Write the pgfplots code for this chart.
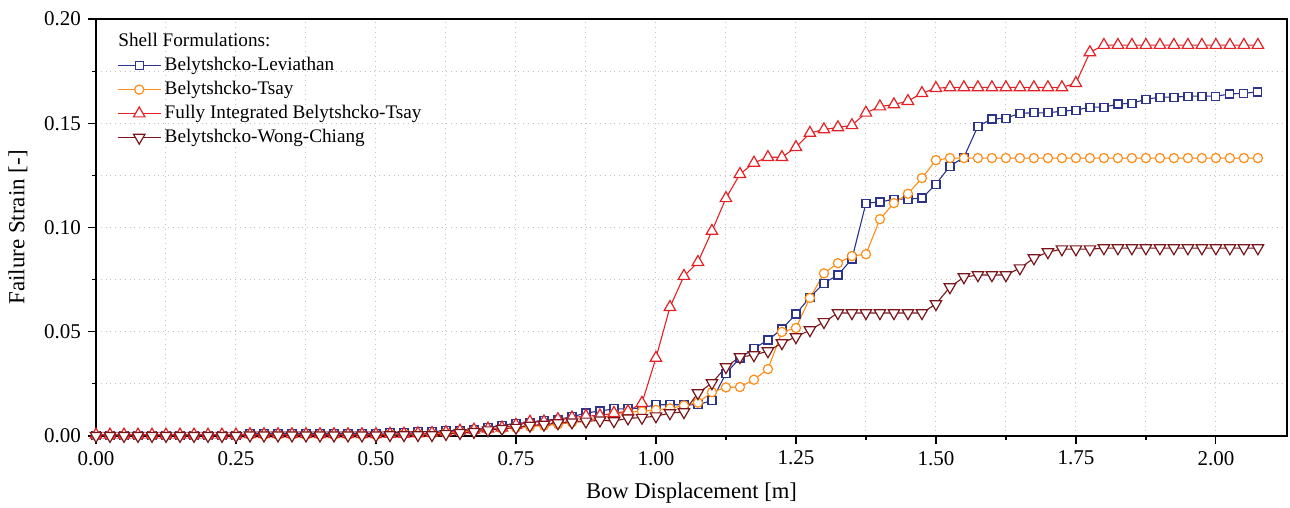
\documentclass[border=0pt]{standalone}
\usepackage{pgfplots}
\pgfplotsset{compat=1.18}
\usepackage{pgfplotstable}
\usepackage{fontspec}
\setmainfont{Liberation Serif}
\definecolor{cnavy}{RGB}{45,52,140}
\definecolor{corange}{RGB}{255,140,20}
\definecolor{cred}{RGB}{230,32,36}
\definecolor{cmaroon}{RGB}{122,22,26}
\definecolor{cgrid}{RGB}{195,195,195}
\pgfplotstableread{
x     a      b      c      d
0.000 0.0003 0.0002 0.0006 0.0001
0.025 0.0003 0.0002 0.0006 0.0001
0.050 0.0003 0.0002 0.0006 0.0001
0.075 0.0003 0.0002 0.0006 0.0001
0.100 0.0003 0.0002 0.0006 0.0001
0.125 0.0003 0.0002 0.0006 0.0001
0.150 0.0003 0.0002 0.0006 0.0001
0.175 0.0003 0.0002 0.0006 0.0001
0.200 0.0003 0.0002 0.0006 0.0001
0.225 0.0003 0.0002 0.0006 0.0001
0.250 0.0003 0.0002 0.0006 0.0001
0.275 0.0013 0.0005 0.0008 0.0003
0.300 0.0013 0.0005 0.0008 0.0003
0.325 0.0013 0.0005 0.0008 0.0003
0.350 0.0013 0.0005 0.0008 0.0003
0.375 0.0013 0.0005 0.0008 0.0003
0.400 0.0013 0.0005 0.0008 0.0003
0.425 0.0013 0.0005 0.0008 0.0003
0.450 0.0013 0.0005 0.0008 0.0003
0.475 0.0013 0.0005 0.0008 0.0003
0.500 0.0013 0.0005 0.0008 0.0003
0.525 0.0015 0.0010 0.0010 0.0005
0.550 0.0018 0.0010 0.0010 0.0005
0.575 0.0020 0.0010 0.0012 0.0005
0.600 0.0022 0.0010 0.0014 0.0005
0.625 0.0025 0.0015 0.0018 0.0010
0.650 0.0028 0.0020 0.0025 0.0015
0.675 0.0030 0.0025 0.0030 0.0020
0.700 0.0040 0.0030 0.0035 0.0028
0.725 0.0052 0.0035 0.0040 0.0035
0.750 0.0060 0.0040 0.0053 0.0040
0.775 0.0066 0.0045 0.0068 0.0050
0.800 0.0076 0.0050 0.0069 0.0055
0.825 0.0080 0.0056 0.0080 0.0062
0.850 0.0092 0.0065 0.0088 0.0066
0.875 0.0110 0.0075 0.0096 0.0070
0.900 0.0120 0.0085 0.0098 0.0075
0.925 0.0130 0.0105 0.0110 0.0072
0.950 0.0130 0.0115 0.0118 0.0085
0.975 0.0135 0.0118 0.0158 0.0088
1.000 0.0150 0.0125 0.0374 0.0095
1.025 0.0150 0.0132 0.0618 0.0110
1.050 0.0150 0.0146 0.0767 0.0115
1.075 0.0150 0.0160 0.0834 0.0206
1.100 0.0170 0.0210 0.0983 0.0254
1.125 0.0300 0.0233 0.1140 0.0331
1.150 0.0374 0.0235 0.1256 0.0379
1.175 0.0420 0.0270 0.1310 0.0388
1.200 0.0460 0.0321 0.1337 0.0407
1.225 0.0513 0.0499 0.1337 0.0446
1.250 0.0585 0.0518 0.1385 0.0475
1.275 0.0666 0.0662 0.1453 0.0508
1.300 0.0733 0.0780 0.1470 0.0547
1.325 0.0772 0.0829 0.1480 0.0590
1.350 0.0849 0.0863 0.1490 0.0590
1.375 0.1117 0.0872 0.1550 0.0590
1.400 0.1122 0.1040 0.1580 0.0590
1.425 0.1136 0.1117 0.1590 0.0590
1.450 0.1136 0.1162 0.1606 0.0590
1.475 0.1141 0.1237 0.1644 0.0590
1.500 0.1208 0.1323 0.1668 0.0633
1.525 0.1294 0.1333 0.1672 0.0714
1.550 0.1337 0.1333 0.1672 0.0762
1.575 0.1486 0.1333 0.1672 0.0772
1.600 0.1520 0.1333 0.1672 0.0772
1.625 0.1524 0.1333 0.1672 0.0772
1.650 0.1548 0.1333 0.1672 0.0805
1.675 0.1550 0.1333 0.1672 0.0853
1.700 0.1550 0.1333 0.1672 0.0882
1.725 0.1558 0.1333 0.1672 0.0896
1.750 0.1563 0.1333 0.1692 0.0896
1.775 0.1577 0.1333 0.1840 0.0896
1.800 0.1577 0.1333 0.1875 0.0901
1.825 0.1592 0.1333 0.1875 0.0901
1.850 0.1596 0.1333 0.1875 0.0901
1.875 0.1615 0.1333 0.1875 0.0901
1.900 0.1625 0.1333 0.1875 0.0901
1.925 0.1625 0.1333 0.1875 0.0901
1.950 0.1630 0.1333 0.1875 0.0901
1.975 0.1630 0.1333 0.1875 0.0901
2.000 0.1630 0.1333 0.1875 0.0901
2.025 0.1640 0.1333 0.1875 0.0901
2.050 0.1644 0.1333 0.1875 0.0901
2.075 0.1650 0.1333 0.1875 0.0901
}\datatable
\begin{document}
\begin{tikzpicture}
\begin{axis}[
  name=ax,
  scale only axis,
  width=595.5pt, height=208.5pt,
  xmin=0, xmax=2.127, ymin=0, ymax=0.2,
  xtick={0,0.25,...,2.01}, ytick={0,0.05,...,0.201},
  minor x tick num=1, minor y tick num=1,
  xtick pos=bottom, ytick pos=left,
  tick align=outside,
  major tick length=4pt, minor tick length=2pt,
  every tick/.style={black, line width=0.6pt},
  axis line style={line width=0.8pt, black},
  grid=both,
  major grid style={cgrid, dotted, line width=0.5pt},
  minor grid style={cgrid, dotted, line width=0.5pt},
  /pgf/number format/assume math mode=true,
  xticklabel style={/pgf/number format/.cd, fixed, fixed zerofill, precision=2},
  yticklabel style={/pgf/number format/.cd, fixed, fixed zerofill, precision=2},
  ticklabel style={font=\fontsize{10.5}{12}\selectfont},
  xlabel={Bow Displacement [m]},
  ylabel={Failure Strain [-]},
  every axis x label/.style={at={(axis description cs:0.5,-0.1367)}, anchor=center, font=\fontsize{11.3}{13}\selectfont},
  every axis y label/.style={at={(axis description cs:-0.0655,0.5)}, rotate=90, anchor=center, font=\fontsize{11.5}{13}\selectfont},
  legend cell align=left,
  legend style={at={(rel axis cs:0.0176,0.918)}, anchor=north west, draw=none, fill=none,
    inner sep=0pt, row sep=0pt,
    font=\fontsize{9.6}{12}\selectfont,
    nodes={inner ysep=1.5pt, inner xsep=1.8pt, text height=7pt, text depth=2pt}},
  legend image code/.code={\draw[mark repeat=2,mark phase=2] plot coordinates {(0cm,0cm) (0.375cm,0cm) (0.75cm,0cm)};},
  every axis plot/.append style={line width=0.55pt},
]
\addplot[cnavy, mark=square*, mark size=2pt, mark options={solid, fill=white, line width=0.6pt}] table[x=x,y=a]{\datatable};
\addlegendentry{Belytshcko-Leviathan}
\addplot[corange, mark=*, mark size=2.3pt, mark options={solid, fill=white, line width=0.6pt}] table[x=x,y=b]{\datatable};
\addlegendentry{Belytshcko-Tsay}
\addplot[cred, mark=triangle*, mark size=3.3pt, mark options={solid, fill=white, line width=0.6pt}] table[x=x,y=c]{\datatable};
\addlegendentry{Fully Integrated Belytshcko-Tsay}
\addplot[cmaroon, mark=triangle*, mark size=3.3pt, mark options={solid, fill=white, line width=0.6pt, rotate=180}] table[x=x,y=d]{\datatable};
\addlegendentry{Belytshcko-Wong-Chiang}
\node[anchor=west, font=\fontsize{9.6}{12}\selectfont, inner sep=0pt] at (rel axis cs:0.0185,0.9496) {Shell Formulations:};
\end{axis}
\pgfresetboundingbox
\path ([xshift=-48pt,yshift=-36pt]ax.south west) rectangle ([xshift=1.5pt,yshift=9.5pt]ax.north east);
\end{tikzpicture}
\end{document}
